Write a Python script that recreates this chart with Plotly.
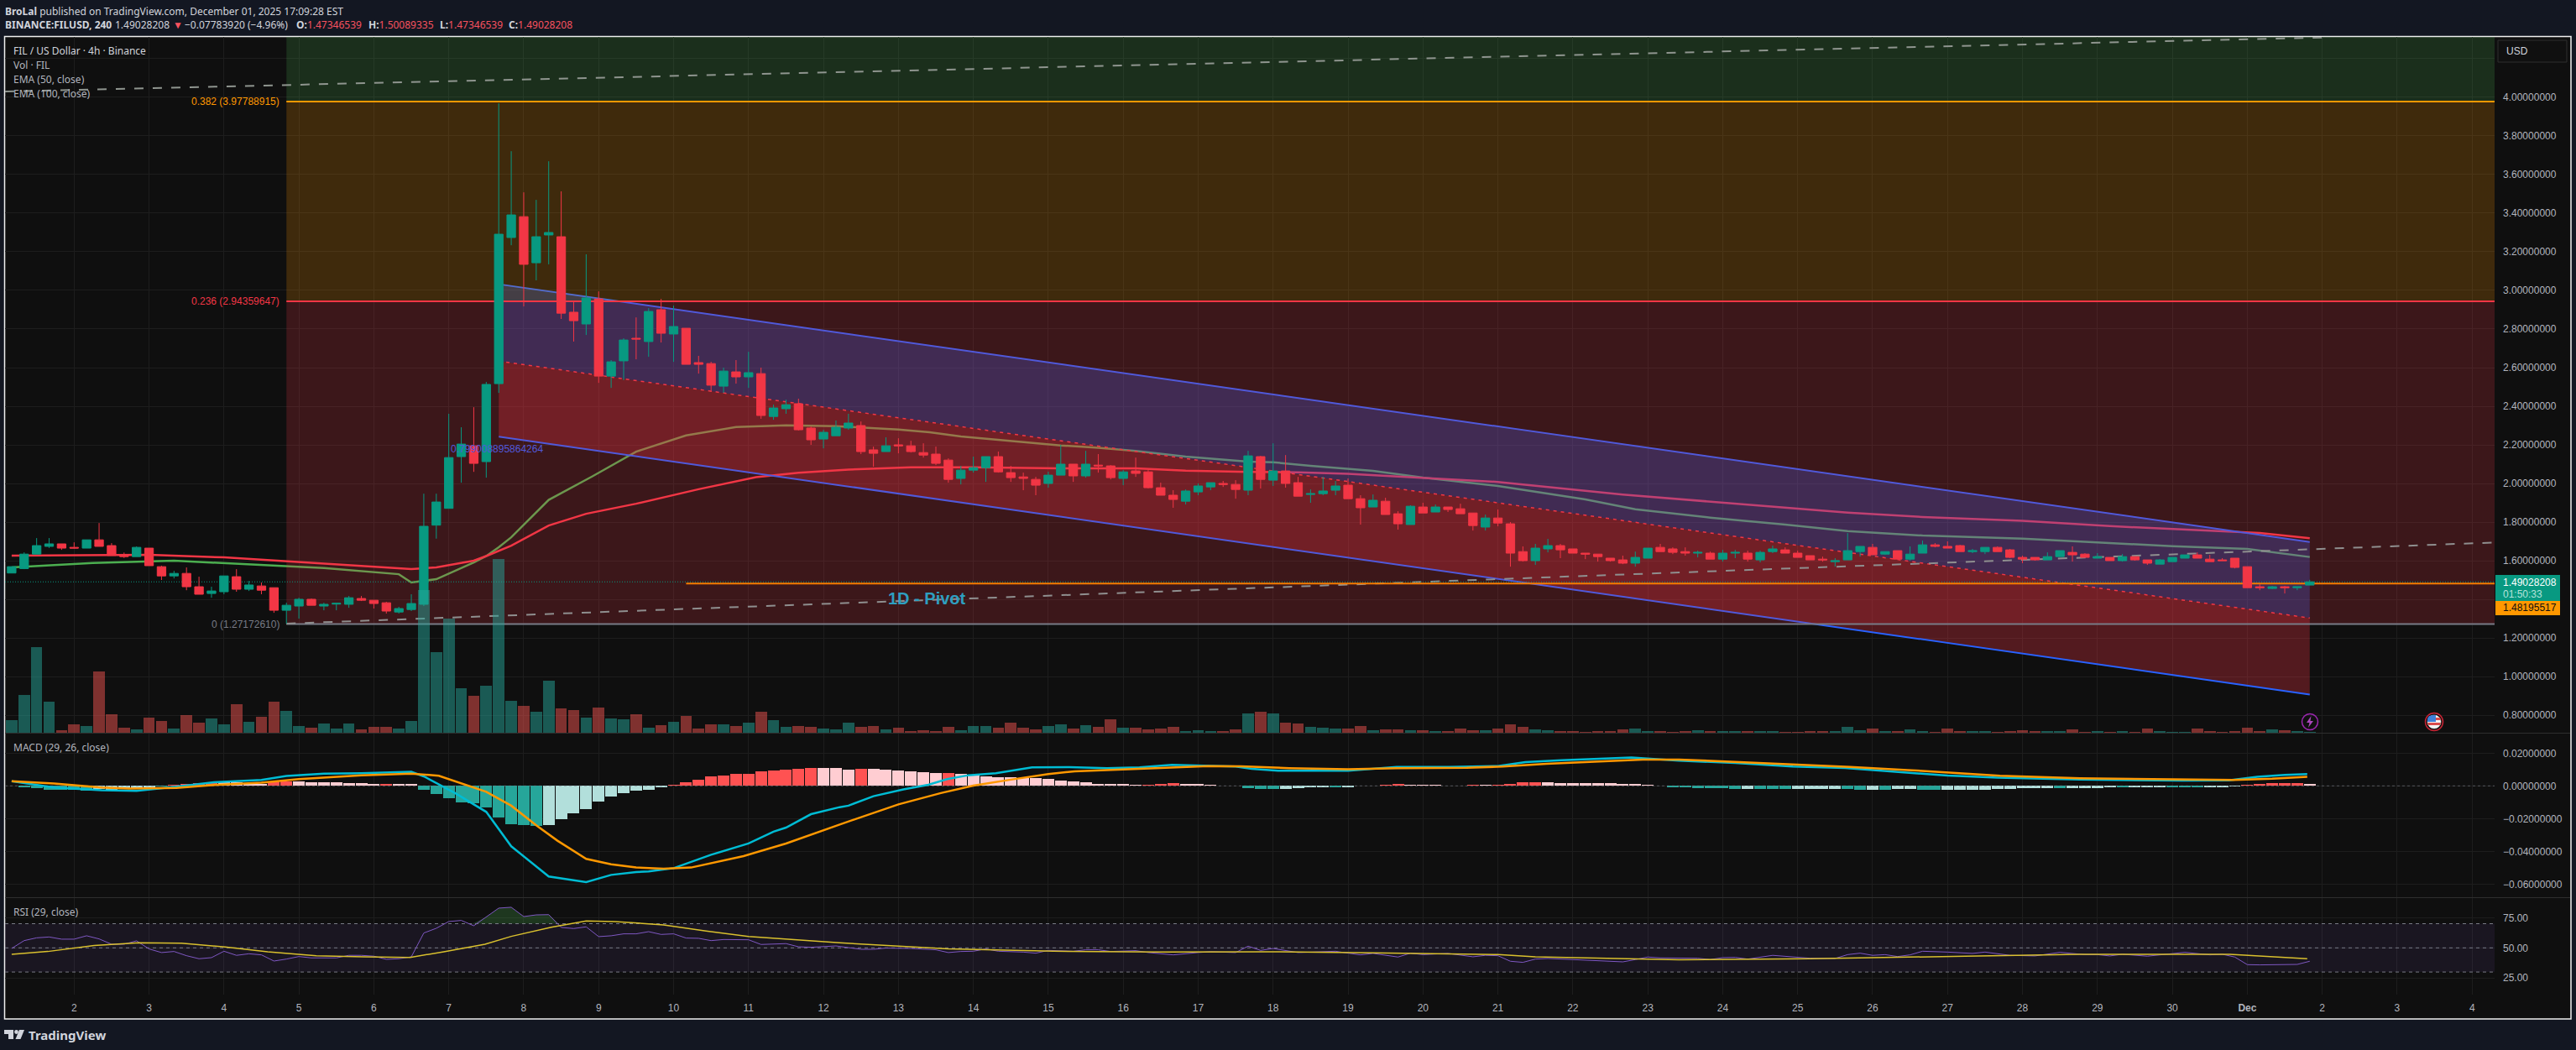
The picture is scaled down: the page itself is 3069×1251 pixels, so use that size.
import plotly.graph_objects as go

W, H = 3069, 1251
BG = "#0f0f0f"
PAGE = "#131722"
UP, DOWN = "#089981", "#f23645"

# ---------- candles, one per 4h bar (bar 0 = Nov 1 04:00) ----------
OPEN = [1.536,1.559,1.634,1.674,1.687,1.669,1.665,1.708,1.678,1.629,
1.621,1.665,1.569,1.521,1.534,1.465,1.430,1.439,1.517,1.452,
1.469,1.460,1.343,1.365,1.400,1.365,1.375,1.374,1.404,1.395,
1.382,1.334,1.347,1.374,1.784,1.871,2.139,2.195,2.113,2.517,
3.274,3.382,3.143,3.287,3.278,2.887,2.826,2.956,2.556,2.635,
2.752,2.735,2.900,2.774,2.804,2.626,2.621,2.504,2.578,2.552,
2.569,2.347,2.387,2.413,2.287,2.230,2.247,2.287,2.300,2.174,
2.165,2.200,2.195,2.160,2.152,2.121,2.026,2.069,2.082,2.139,
2.056,2.034,2.021,2.000,2.043,2.100,2.039,2.095,2.091,2.026,
2.065,2.060,1.978,1.939,1.908,1.956,1.982,2.000,1.995,1.965,
2.139,2.017,2.065,2.004,1.943,1.947,1.965,1.991,1.921,1.878,
1.908,1.843,1.787,1.878,1.852,1.878,1.869,1.847,1.774,1.821,
1.791,1.647,1.600,1.661,1.678,1.661,1.639,1.634,1.613,1.604,
1.587,1.613,1.669,1.661,1.647,1.639,1.639,1.608,1.639,1.639,
1.604,1.647,1.656,1.639,1.626,1.608,1.595,1.604,1.647,1.669,
1.634,1.652,1.608,1.639,1.682,1.674,1.678,1.647,1.647,1.669,
1.656,1.617,1.617,1.604,1.621,1.643,1.634,1.613,1.617,1.600,
1.621,1.604,1.582,1.595,1.613,1.630,1.608,1.604,1.613,1.569,
1.465,1.456,1.465,1.460,1.4735]
HIGH = [1.569,1.643,1.717,1.717,1.687,1.695,1.708,1.795,1.691,1.642,
1.674,1.665,1.574,1.547,1.565,1.517,1.465,1.521,1.556,1.495,
1.487,1.460,1.382,1.408,1.404,1.382,1.382,1.417,1.417,1.395,
1.387,1.361,1.426,1.947,1.947,2.361,2.291,2.395,2.526,3.969,
3.721,3.508,3.469,3.669,3.513,2.943,3.187,2.995,2.639,2.752,
2.860,2.908,2.956,2.921,2.804,2.661,2.630,2.600,2.639,2.682,
2.600,2.408,2.434,2.439,2.295,2.278,2.326,2.361,2.321,2.191,
2.239,2.234,2.221,2.208,2.191,2.130,2.091,2.139,2.139,2.165,
2.091,2.056,2.034,2.061,2.200,2.100,2.169,2.152,2.095,2.069,
2.134,2.069,2.004,1.965,1.969,2.000,2.004,2.013,2.017,2.169,
2.143,2.208,2.147,2.034,1.969,2.034,2.013,2.026,1.939,1.943,
1.926,1.856,1.887,1.900,1.891,1.878,1.895,1.847,1.839,1.865,
1.800,1.674,1.687,1.713,1.687,1.661,1.639,1.634,1.613,1.626,
1.647,1.665,1.687,1.669,1.669,1.652,1.647,1.656,1.656,1.652,
1.652,1.678,1.669,1.652,1.626,1.621,1.613,1.743,1.674,1.687,
1.647,1.652,1.674,1.704,1.691,1.700,1.682,1.661,1.669,1.674,
1.661,1.626,1.617,1.643,1.652,1.674,1.639,1.639,1.617,1.634,
1.621,1.604,1.608,1.617,1.630,1.643,1.630,1.613,1.613,1.569,
1.478,1.469,1.469,1.465,1.5009]
LOW = [1.536,1.556,1.634,1.666,1.656,1.663,1.665,1.674,1.626,1.614,
1.621,1.574,1.500,1.508,1.447,1.426,1.408,1.426,1.439,1.443,
1.426,1.330,1.274,1.300,1.369,1.343,1.343,1.356,1.391,1.352,
1.326,1.326,1.339,1.365,1.714,1.871,2.004,2.060,2.030,2.469,
3.234,2.917,3.052,3.135,2.852,2.735,2.769,2.521,2.495,2.535,
2.643,2.656,2.730,2.630,2.617,2.569,2.474,2.469,2.517,2.495,
2.335,2.330,2.361,2.274,2.200,2.182,2.247,2.278,2.152,2.087,
2.165,2.156,2.160,2.134,2.095,2.004,1.995,2.056,2.008,2.056,
2.008,1.965,1.939,1.978,2.043,2.008,2.030,2.056,2.021,1.991,
2.034,1.974,1.939,1.874,1.891,1.939,1.965,1.982,1.921,1.939,
1.974,1.987,1.978,1.934,1.900,1.939,1.939,1.921,1.787,1.878,
1.839,1.761,1.787,1.847,1.852,1.852,1.843,1.756,1.756,1.778,
1.569,1.595,1.578,1.643,1.613,1.639,1.608,1.595,1.595,1.582,
1.569,1.613,1.647,1.634,1.626,1.617,1.608,1.595,1.613,1.595,
1.591,1.639,1.639,1.617,1.604,1.595,1.569,1.604,1.621,1.630,
1.630,1.608,1.600,1.639,1.669,1.665,1.647,1.639,1.634,1.647,
1.613,1.587,1.600,1.604,1.621,1.595,1.617,1.613,1.600,1.595,
1.600,1.578,1.582,1.595,1.613,1.613,1.595,1.600,1.560,1.460,
1.447,1.452,1.430,1.447,1.4735]
CLOSE = [1.569,1.634,1.678,1.687,1.665,1.665,1.708,1.674,1.627,1.621,
1.669,1.574,1.521,1.534,1.465,1.426,1.443,1.521,1.452,1.474,
1.447,1.343,1.369,1.400,1.369,1.374,1.379,1.408,1.395,1.378,
1.339,1.352,1.378,1.778,1.904,2.134,2.204,2.104,2.513,3.291,
3.391,3.135,3.278,3.300,2.882,2.843,2.961,2.556,2.630,2.743,
2.748,2.891,2.778,2.813,2.617,2.617,2.509,2.582,2.552,2.574,
2.352,2.391,2.408,2.278,2.226,2.265,2.291,2.313,2.165,2.156,
2.195,2.195,2.165,2.147,2.104,2.021,2.069,2.082,2.139,2.060,
2.030,2.026,1.991,2.043,2.100,2.039,2.100,2.091,2.030,2.060,
2.052,1.978,1.939,1.917,1.961,1.987,2.004,1.995,1.969,2.143,
2.021,2.065,2.000,1.934,1.947,1.961,1.987,1.921,1.874,1.913,
1.839,1.791,1.882,1.847,1.878,1.865,1.843,1.782,1.821,1.795,
1.639,1.600,1.665,1.678,1.656,1.639,1.634,1.621,1.600,1.587,
1.617,1.665,1.647,1.643,1.639,1.643,1.608,1.639,1.643,1.608,
1.643,1.661,1.639,1.617,1.604,1.604,1.600,1.652,1.674,1.630,
1.647,1.608,1.634,1.682,1.674,1.665,1.647,1.652,1.669,1.647,
1.617,1.608,1.604,1.621,1.652,1.630,1.617,1.621,1.600,1.621,
1.604,1.587,1.604,1.617,1.630,1.613,1.595,1.600,1.565,1.460,
1.460,1.465,1.460,1.465,1.4903]
VOLUME = [15,45,102,37,3,10,8,73,22,6,
4,18,14,5,21,12,17,10,34,13,
19,37,26,8,6,11,5,11,4,7,
7,5,14,170,96,136,53,44,56,207,
38,32,25,62,29,27,18,30,17,16,
22,6,9,13,20,5,10,10,8,12,
25,15,7,8,7,5,4,12,7,8,
4,6,2,3,2,7,3,8,8,6,
12,6,4,8,10,5,9,7,16,6,
6,4,5,7,2,3,2,2,4,23,
25,23,12,11,7,6,5,5,8,3,
4,4,3,3,2,2,5,3,3,5,
10,7,4,3,2,2,1,2,2,4,
5,2,2,1,2,3,2,2,2,2,
2,2,1,1,2,2,2,7,3,5,
2,2,4,2,1,5,2,2,2,1,
2,3,2,2,2,4,1,2,1,2,
1,5,2,1,1,5,2,1,2,6,
2,4,3,2,1]

# ---------- moving averages: (bar, price) vertices ----------
EMA100_BAR = [0,7,11,17,21,27,32,34,37,38,40,43,46,50,55,59.6,63,67,72,77,84,90,94,99,103,107,113,119,129,137,147,153,161,168,175,180,184]
EMA100_VAL = [1.626,1.630,1.630,1.617,1.600,1.574,1.556,1.565,1.600,1.624,1.678,1.782,1.843,1.895,1.970,2.033,2.055,2.072,2.084,2.084,2.078,2.078,2.066,2.060,2.058,2.050,2.030,2.008,1.942,1.900,1.849,1.826,1.806,1.779,1.759,1.743,1.716]
EMA50_BAR = [0,6.5,13,19,25,31,32,34,37,38,39,40,43,46.5,50,54,58,62,66,71,73.5,76,80,84,87,90,94,99,101,104,109,113,119,122,126,130,136,142,147,153,161,166,173,179,184]
EMA50_VAL = [1.565,1.588,1.600,1.582,1.562,1.530,1.487,1.504,1.591,1.624,1.670,1.721,1.915,2.037,2.165,2.249,2.292,2.301,2.297,2.279,2.265,2.243,2.221,2.197,2.185,2.168,2.139,2.113,2.110,2.091,2.065,2.030,1.987,1.956,1.917,1.866,1.823,1.787,1.753,1.730,1.714,1.698,1.675,1.661,1.619]

# ---------- drawings ----------
FIB_NAMES = ["0.382 (3.97788915)", "0.236 (2.94359647)", "0 (1.27172610)"]
FIB_LEVELS = [3.97788915, 2.94359647, 1.27172610]
FIB_COLORS = ["#ff9800", "#f23645", "#787b86"]
FIB_START_BAR = 22
CHANNEL_BARS = [39, 184]
CHANNEL_TOP = [3.032, 1.697]
CHANNEL_MID = [2.634, 1.303]
CHANNEL_BOT = [2.242, 0.907]
TREND_UP_BARS = [-0.53, 185]
TREND_UP_VALS = [4.03, 4.31]
TREND_LOW_BARS = [22, 198.8]
TREND_LOW_VALS = [1.274, 1.694]
PIVOT_BARS = [54, 198.8]
PIVOT_VAL = 1.48195517
LAST_PRICE = 1.49028208

# ---------- MACD ----------
HIST = [.0003,-.0009,-.0015,-.0024,-.0024,-.0024,-.0029,-.0019,-.0024,-.0019,
-.0014,-.0014,-.0003,.0007,.0012,.0017,.0022,.0022,.0022,.0017,
.0012,.0027,.0027,.0027,.0022,.0022,.0021,.0017,.0017,.0012,
.0012,.0012,.0012,-.0024,-.005,-.0075,-.0101,-.0106,-.0132,-.0193,
-.0234,-.0239,-.0245,-.0239,-.0204,-.0168,-.0142,-.0096,-.0065,-.0044,
-.0029,-.0024,-.0009,.0007,.0022,.0038,.0058,.0063,.0074,.0074,
.0089,.0094,.0099,.0104,.0109,.0109,.0109,.0099,.0104,.0104,
.0099,.0094,.0089,.0084,.0079,.0079,.0074,.0068,.0058,.0053,
.0053,.0048,.0048,.0043,.0032,.0027,.0022,.0012,.0012,.0012,
.0007,.0007,.0012,.0017,.0012,.0012,.0007,.0002,.0002,-.0015,
-.0019,-.0019,-.0019,-.0014,-.0009,-.0009,-.0009,-.0009,.0002,.0002,
.0007,.0012,.0007,.0007,.0007,.0002,.0002,.0007,.0007,.0007,
.0012,.0022,.0022,.0022,.0017,.0017,.0017,.0017,.0017,.0012,
.0012,.0007,.0002,-.0009,-.0007,-.0014,-.0014,-.0014,-.0019,-.0019,
-.0019,-.0019,-.0019,-.0019,-.0019,-.0019,-.0019,-.0019,-.0024,-.0024,
-.0024,-.0019,-.0019,-.0024,-.0024,-.0024,-.0024,-.0024,-.0024,-.0019,
-.0019,-.0014,-.0014,-.0014,-.0014,-.0014,-.0014,-.0014,-.0009,-.0009,
-.0009,-.0009,-.0009,-.0009,-.0009,-.0009,-.0009,-.0009,-.0003,.0007,
.0012,.0017,.0017,.0017,.0012]
HIST_STATE = ("PDDDDDDLLL" "LLDRRRRPPP" "PRRPPPPPPP" "RPPDDDDDDD" "DDDLLLLLLL"
              "LLLRRRRRRR" "RRRRRPPPRP" "PPPPPRPPPP" "PPPPPPPPPP" "PRRRPPPPPD"
              "DDLLLLDLRR" "RRPPPPPRPR" "RRRPPPPPPP" "PPPDDDDDDL" "DDDLLLLDDL"
              "DLLDDLLLLL" "LLLLDLLLLD" "LLLDDDLLLR" "RRRRP")
HIST_COLORS = {"D": "#26a69a", "L": "#b2dfdb", "R": "#ff5252", "P": "#ffcdd2"}
MACD_BAR = [0,3.4,7.2,10,13.2,16.2,20,22,25,28,32,33,35.5,38,40,43,46,48,50,51,53,56,59,61,62,64,66.3,67,69,71.4,73.4,74.9,76.6,78.8,81.7,84.7,87.7,90.3,92.9,95.8,98,99.3,101.4,107,110.9,115.1,119,121.2,124.1,129.7,133.5,138,142.6,146.8,150,152.2,155,159,165.6,173.8,177.5,179.8,182,183.8]
MACD_VAL = [.0029,-.0010,-.0027,-.0031,-.0005,.0022,.0036,.0060,.0074,.0077,.0086,.0058,-.0044,-.0159,-.0369,-.0554,-.0588,-.0544,-.0527,-.0523,-.0503,-.0421,-.0352,-.0280,-.0255,-.0173,-.0130,-.0121,-.0063,-.0022,.0007,.0041,.0065,.0077,.0113,.0115,.0108,.0113,.0128,.0123,.0118,.0104,.0092,.0092,.0116,.0116,.0121,.0145,.0157,.0173,.0154,.0140,.0118,.0109,.0091,.0082,.0063,.0050,.0039,.0032,.0034,.0055,.0067,.0072]
SIGNAL_BAR = [0,3.4,7.2,9.4,13.2,16.2,20,23,28,32,34.2,36.4,38,40,42,43.7,46,48,50,52.2,54.4,58.6,62,66.3,69,71,74.4,77,80,83,85.1,90.3,92.9,95.8,98.4,102.3,107,110.9,116.5,119.4,122.9,128,130.6,133.5,138,142.6,147.2,151.8,156.4,159.2,165.6,172.4,177.9,181,183.8]
SIGNAL_VAL = [.0029,.0015,-.0010,-.0017,-.0012,.0005,.0019,.0041,.0065,.0075,.0062,.0007,-.0036,-.0121,-.0241,-.0335,-.0446,-.0479,-.0499,-.0506,-.0499,-.0429,-.0352,-.0236,-.0164,-.0113,-.0044,.0002,.0038,.0072,.0089,.0104,.0115,.0121,.0120,.0108,.0101,.0108,.0111,.0118,.0135,.0154,.0161,.0161,.0147,.0132,.0116,.0097,.0077,.0062,.0046,.0039,.0036,.0044,.0056]
MACD_TICKS = [0.02, 0.0, -0.02, -0.04, -0.06]

# ---------- RSI ----------
RSI_BAR = [0,1,2,3,4,5,6,7,8,9,10,11,12,13,14,15,16,17,18,19,20,21,22,23,24,26,27,28,29,30,31,32,33,34,35,36,37,38,39,40,41,42,43,44,45,46,47,48,49,50,51,52,53,54,55,56,57,59,60,62,63,64,65,66,
  68,69,70,72,74,75,76,77,78,79,81,82,83,85,86,87,88,90,91,93,95,96,98,99,100,101,103,105,106,107,108,109,111,112,113,115,117,118,119,120,121,122,123,125,127,129,130,131,132,133.5,
  135,136,137,138,139,141,143,144,146,147,148,149,150,151,152,153,155,157,158,159,160,162,164,166,167,168,169,171,174,176,177,178,179,180,182,183,184]
RSI_VAL = [49.5,56,58.3,59,57.2,57.2,60,57.4,53,53,55.8,49.1,46.1,47,43.5,41,41.9,47.2,43.8,45.1,44.2,39.1,40.7,42.8,41.7,41.7,43.8,43.8,43.1,40.5,41,42.6,62.3,66.2,71.8,72.7,68.3,75.5,82.9,83.6,75.9,77.3,77.5,66.9,66,67.4,59.3,60,61.6,61.6,63.4,61.1,61.6,58.1,57.9,56,56.9,56.7,52.8,53.5,50.9,50.5,51.2,51.6,
  48.8,48.8,49.8,49.5,48.4,46.1,47,47.2,49.1,47.2,46.5,45.6,47.9,47.2,48.4,48.4,47,47.7,46.1,44.2,46.1,46.8,46.1,51.4,47.9,49.5,46.1,46.5,47.2,45.6,44.2,45.4,42.4,45.6,44.4,45.4,42.6,43.8,43.5,38.9,38,40.7,41.2,40.3,39.6,38.4,40.3,42.4,41.7,41.4,
  41.4,40.3,41.9,42.1,40.7,43.8,42.4,41.4,41.2,44.4,45.6,43.8,44.4,42.8,44.2,47.2,46.5,45.4,46.5,45.4,43.8,43.3,46.3,44.4,44.4,43.3,44.7,43.1,46.3,44.2,44.7,42.4,36.1,35.9,36.3,36.3,38.9]
RSI_MA_BAR = [0,2.9,6.6,10.2,13.6,17.1,20.5,24.4,28.2,31.9,34.6,37.9,40,43.2,46,48.3,52.2,55.6,59,63.4,66.3,75,83.4,92,100.6,109,119,122,130.6,133.5,144,147,156.4,165.6,174.6,177.6,183.8]
RSI_MA_VAL = [44.7,47,51.9,54.2,53.9,50.7,46.8,43.5,42.6,42.1,46.8,53,59.5,67.1,72.2,71.8,69,63.9,59.5,56.5,54.2,49.1,47.2,46.5,46.8,45.9,44.4,42.6,40.7,40.2,41,41.4,43.1,44.7,44.7,44.7,41]
RSI_OB_BAR = [36.7,37,38,39,40,41,42,43,43.8]
RSI_OB_VAL = [70,70.5,75.5,82.9,83.6,75.9,77.3,77.5,70]
RSI_LEVELS = [70, 50, 30]
RSI_TICKS = [75, 50, 25]

# ---------- axis labels ----------
PRICE_TICKS = [0.8,1.0,1.2,1.4,1.6,1.8,2.0,2.2,2.4,2.6,2.8,3.0,3.2,3.4,3.6,3.8,4.0,4.2]
PRICE_TICKS_HIDDEN = [1.4, 4.2]
DAY_LABELS = ["2","3","4","5","6","7","8","9","10","11","12","13","14","15","16","17","18","19","20","21","22","23","24","25","26","27","28","29","30","<b>Dec</b>","2","3","4"]
DAY_BARS = [5 + 6 * k for k in range(len(DAY_LABELS))]

XR = [-0.53, 198.8]
PRICE_RANGE = [0.7087, 4.313]
fx = lambda p: p / W
fy = lambda p: 1 - p / H
N = len(CLOSE)
BARS = list(range(N))
TXT = "#b2b5be"

fig = go.Figure()
def add_line(x, y, color, width=1, dash="solid", xa="x", ya="y", fill=None, fillcolor=None):
    fig.add_trace(go.Scatter(x=x, y=y, mode="lines", xaxis=xa, yaxis=ya, showlegend=False, hoverinfo="skip",
                             line=dict(color=color, width=width, dash=dash), fill=fill, fillcolor=fillcolor))

# lowest layer: indicators, then channel, then fib tint (it tints what lies beneath)
add_line(EMA50_BAR, EMA50_VAL, "#4caf50", 2.5)
add_line(EMA100_BAR, EMA100_VAL, "#f23645", 2.5)

cx = CHANNEL_BARS
add_line(cx + cx[::-1], CHANNEL_TOP + CHANNEL_MID[::-1], "rgba(0,0,0,0)", 0, fill="toself", fillcolor="rgba(41,98,255,0.3)")
add_line(cx + cx[::-1], CHANNEL_MID + CHANNEL_BOT[::-1], "rgba(0,0,0,0)", 0, fill="toself", fillcolor="rgba(242,54,69,0.3)")
add_line(cx, CHANNEL_TOP, "#2962ff", 2)
add_line(cx, CHANNEL_BOT, "#2962ff", 2)
add_line(cx, CHANNEL_MID, "#f23645", 1.5, dash="4px,5px")

fx0, fx1 = FIB_START_BAR, XR[1]
def band(lo, hi, col):
    add_line([fx0, fx1, fx1, fx0], [lo, lo, hi, hi], "rgba(0,0,0,0)", 0, fill="toself", fillcolor=col)
band(FIB_LEVELS[0], PRICE_RANGE[1], "rgba(76,175,80,0.2)")
band(FIB_LEVELS[1], FIB_LEVELS[0], "rgba(255,152,0,0.2)")
band(FIB_LEVELS[2], FIB_LEVELS[1], "rgba(242,54,69,0.2)")
for lv, col in zip(FIB_LEVELS, FIB_COLORS):
    add_line([fx0, fx1], [lv, lv], col, 2)
add_line(TREND_UP_BARS, TREND_UP_VALS, "#8f958f", 2, dash="11px,11px")
add_line(TREND_LOW_BARS, TREND_LOW_VALS, "#8f8f8f", 2, dash="11px,11px")
add_line(XR, [LAST_PRICE, LAST_PRICE], UP, 1, dash="1px,2px")
add_line(PIVOT_BARS, [PIVOT_VAL, PIVOT_VAL], "#f57c00", 2)

# candles above the drawings
fig.add_trace(go.Candlestick(x=BARS, open=OPEN, high=HIGH, low=LOW, close=CLOSE, xaxis="x", yaxis="y2",
    increasing=dict(line=dict(color=UP, width=1), fillcolor=UP),
    decreasing=dict(line=dict(color=DOWN, width=1), fillcolor=DOWN),
    whiskerwidth=0, showlegend=False, hoverinfo="skip"))

# volume above the candles
fig.add_trace(go.Bar(x=BARS, y=VOLUME, xaxis="x", yaxis="y3", width=0.92, showlegend=False, hoverinfo="skip",
    marker=dict(line=dict(width=0),
                color=["rgba(38,166,154,0.5)" if c >= o else "rgba(239,83,80,0.5)" for o, c in zip(OPEN, CLOSE)])))

# MACD
add_line(XR, [0, 0], "rgba(120,123,134,0.6)", 1, dash="3px,3px", xa="x2", ya="y4")
fig.add_trace(go.Bar(x=BARS, y=HIST, xaxis="x2", yaxis="y4", width=0.94, showlegend=False, hoverinfo="skip",
    marker=dict(line=dict(width=0), color=[HIST_COLORS[s] for s in HIST_STATE])))
add_line(MACD_BAR, MACD_VAL, "#00bcd4", 2.5, xa="x2", ya="y4")
add_line(SIGNAL_BAR, SIGNAL_VAL, "#ff9800", 2.5, xa="x2", ya="y4")

# RSI
add_line(XR, [RSI_LEVELS[2]] * 2, "rgba(0,0,0,0)", 0, xa="x3", ya="y5")
add_line(XR, [RSI_LEVELS[0]] * 2, "rgba(0,0,0,0)", 0, xa="x3", ya="y5", fill="tonexty", fillcolor="rgba(126,87,194,0.1)")
add_line([RSI_OB_BAR[0], RSI_OB_BAR[-1]], [RSI_LEVELS[0]] * 2, "rgba(0,0,0,0)", 0, xa="x3", ya="y5")
add_line(RSI_OB_BAR, RSI_OB_VAL, "rgba(0,0,0,0)", 0, xa="x3", ya="y5", fill="tonexty", fillcolor="rgba(76,175,80,0.25)")
for lv in RSI_LEVELS:
    add_line(XR, [lv, lv], "#787b86", 1, dash="4px,4px", xa="x3", ya="y5")
add_line(RSI_BAR, RSI_VAL, "#7e57c2", 1, xa="x3", ya="y5")
add_line(RSI_MA_BAR, RSI_MA_VAL, "#d9c02e", 1.5, xa="x3", ya="y5")

GRID = "#1d1d1d"
xdom = [fx(6), fx(2972)]
def xaxis(anchor, labels=False):
    d = dict(domain=xdom, range=XR, anchor=anchor, showgrid=True, gridcolor=GRID, gridwidth=1, zeroline=False,
             showline=False, ticks="", tickmode="array", tickvals=DAY_BARS, fixedrange=True,
             rangeslider=dict(visible=False), layer="below traces")
    if labels:
        d.update(ticktext=DAY_LABELS, tickfont=dict(family="Liberation Sans", size=12, color=TXT), ticklabelstandoff=7)
    else:
        d.update(showticklabels=False)
    return d
yfont = dict(family="Liberation Sans", size=12, color=TXT)
fig.update_layout(
    width=W, height=H, margin=dict(l=0, r=0, t=0, b=0), autosize=False,
    paper_bgcolor=PAGE, plot_bgcolor="rgba(0,0,0,0)", showlegend=False, hovermode=False,
    boxgap=0.31, boxgroupgap=0, bargap=0, barmode="overlay", dragmode=False,
    xaxis=xaxis("y"), xaxis2=xaxis("y4"), xaxis3=xaxis("y5", True),
    yaxis=dict(domain=[fy(873), fy(44)], range=PRICE_RANGE, anchor="x", side="right", showgrid=True, gridcolor=GRID,
               zeroline=False, tickmode="array", tickvals=PRICE_TICKS,
               ticktext=[" " if v in PRICE_TICKS_HIDDEN else f"{v:.8f}" for v in PRICE_TICKS],
               tickfont=yfont, ticks="", ticklabelstandoff=9, fixedrange=True),
    yaxis2=dict(domain=[fy(873), fy(44)], range=PRICE_RANGE, anchor="x", overlaying="y", side="right",
                showgrid=False, zeroline=False, showticklabels=False, ticks="", fixedrange=True),
    yaxis3=dict(domain=[fy(873), fy(44)], range=[0, 829], anchor="x", overlaying="y", side="right",
                showgrid=False, zeroline=False, showticklabels=False, ticks="", fixedrange=True),
    yaxis4=dict(domain=[fy(1069), fy(874)], range=[-0.06805, 0.03195], anchor="x2", side="right", showgrid=True,
                gridcolor=GRID, zeroline=False, tickmode="array", tickvals=MACD_TICKS,
                ticktext=[f"{v:.8f}".replace("-", "\u2212") for v in MACD_TICKS],
                tickfont=yfont, ticks="", ticklabelstandoff=9, fixedrange=True),
    yaxis5=dict(domain=[fy(1185), fy(1070)], range=[11.3, 91.2], anchor="x3", side="right", showgrid=True,
                gridcolor=GRID, zeroline=False, tickmode="array", tickvals=RSI_TICKS,
                ticktext=[f"{v:.2f}" for v in RSI_TICKS],
                tickfont=yfont, ticks="", ticklabelstandoff=9, fixedrange=True),
)

# page furniture
shapes = []
def pxrect(x0, y0, x1, y1, fill, line=None, lw=0, layer="above"):
    shapes.append(dict(type="rect", xref="paper", yref="paper", x0=fx(x0), x1=fx(x1), y0=fy(y0), y1=fy(y1),
                       fillcolor=fill, line=dict(color=line or fill, width=lw), layer=layer))
def pxline(x0, y0, x1, y1, col, w=1):
    shapes.append(dict(type="line", xref="paper", yref="paper", x0=fx(x0), x1=fx(x1), y0=fy(y0), y1=fy(y1),
                       line=dict(color=col, width=w), layer="above"))
def pxcircle(cx_, cy_, r, fill, line, lw=1.5):
    shapes.append(dict(type="circle", xref="paper", yref="paper", x0=fx(cx_ - r), x1=fx(cx_ + r), y0=fy(cy_ - r), y1=fy(cy_ + r),
                       fillcolor=fill, line=dict(color=line, width=lw), layer="above"))
def pxpoly(pts, fill):
    d = "M" + " L".join(f"{fx(a):.6f},{fy(b):.6f}" for a, b in pts) + " Z"
    shapes.append(dict(type="path", xref="paper", yref="paper", path=d, fillcolor=fill, line=dict(width=0), layer="above"))

pxrect(5.5, 43.5, 3063, 1214, BG, "#f0f0f0", 1.5, layer="below")
pxline(6, 873.5, 3062, 873.5, "#2e2e2e", 1)
pxline(6, 1069.5, 3062, 1069.5, "#2e2e2e", 1)
# price labels and USD box
pxrect(2973, 685, 3050, 716, UP)
pxrect(2973, 716, 3050, 733, "#ff9800")
pxrect(2976, 48, 3058, 74, "#101010", "#2f2f2f", 1)
# lightning badge
pxcircle(2752, 860, 9.5, "rgba(0,0,0,0)", "#9c27b0", 1.5)
pxpoly([(2753.5, 853), (2748, 861), (2751.5, 861), (2750, 867), (2756, 859), (2752.5, 859)], "#ab47bc")
# flag badge
pxcircle(2900, 860, 10.5, "#0f0f0f", "#c62434", 1.5)
pxcircle(2900, 860, 8, "#f3f3f3", "#f3f3f3", 0.5)
pxpoly([(2892, 856), (2894, 853), (2898, 852), (2902, 852), (2902, 860), (2892, 860)], "#3f7fd8")
pxpoly([(2902, 855), (2907, 855), (2908, 858), (2902, 858)], "#d94b4b")
pxpoly([(2892, 861), (2908, 861), (2907, 864), (2893, 864)], "#d94b4b")
# TradingView logo
LG = "#d1d4dc"
pxpoly([(5, 1227), (16, 1227), (16, 1238), (10, 1238), (10, 1232), (5, 1232)], LG)
pxcircle(19.5, 1229.5, 2.4, LG, LG, 0)
pxpoly([(23, 1227), (29, 1227), (24.5, 1238), (18.5, 1238)], LG)
fig.update_layout(shapes=shapes)

ann = []
def text(px, py, s, size=12, color=TXT, fam="Noto Sans"):
    ann.append(dict(xref="paper", yref="paper", x=fx(px), y=fy(py), text=s, showarrow=False, xanchor="left",
                    yanchor="middle", align="left", borderpad=0,
                    font=dict(family=fam, size=size, color=color)))

RD = "#f7525f"
HC = "#d1d4dc"
text(5, 13, "<b>BroLal</b> published on TradingView.com, December 01, 2025 17:09:28 EST", color=HC)
text(5, 30, "<b>BINANCE:FILUSD, 240</b>", color=HC)
text(136, 30, "1.49028208", color=HC)
text(205, 30, "\u25bc", color=RD)
text(219, 30, "\u22120.07783920 (\u22124.96%)", color=HC)
for px_, lab, val in zip([352, 438, 523, 605], ["O:", "H:", "L:", "C:"],
                         ["1.47346539", "1.50089335", "1.47346539", "1.49028208"]):
    text(px_, 30, f"<b>{lab}</b><span style='color:{RD}'>{val}</span>", color=HC)
text(15, 60.5, "FIL / US Dollar \u00b7 4h \u00b7 Binance", color=HC)
text(15, 77.7, "Vol \u00b7 FIL")
text(15, 94.7, "EMA (50, close)")
text(15, 111.7, "EMA (100, close)")
text(15, 890.7, "MACD (29, 26, close)")
text(15, 1086.7, "RSI (29, close)")
text(33, 1232.7, "<b>TradingView</b>", size=15, color=LG)
text(2985, 61, "USD", color="#d1d4dc", fam="Liberation Sans")
text(2981, 693.5, "1.49028208", color="#ffffff", fam="Liberation Sans")
text(2981, 707.5, "01:50:33", color="#b5e3da", fam="Liberation Sans")
text(2981, 724.5, "1.48195517", color="#0f0f0f", fam="Liberation Sans")
text(535.5, 534.7, "0.799008895864264", color="#5159da", fam="Liberation Sans")
# labels tied to data
for name, lv, col in zip(FIB_NAMES, FIB_LEVELS, FIB_COLORS):
    ann.append(dict(x=FIB_START_BAR, y=lv, xref="x", yref="y", text=name, showarrow=False, xanchor="right", yanchor="middle",
                    xshift=-7, borderpad=0, font=dict(family="Liberation Sans", size=12, color=col)))
ann.append(dict(x=73.3, y=1.405, xref="x", yref="y", text="<b>1D - Pivot</b>", showarrow=False, borderpad=0,
                font=dict(family="Liberation Sans", size=20, color="#2e9fc0")))
fig.update_layout(annotations=ann)

fig.write_html("out.html", config={"displayModeBar": False, "staticPlot": True},
               post_script=f"document.body.style.margin='0';document.body.style.background='{PAGE}';")
